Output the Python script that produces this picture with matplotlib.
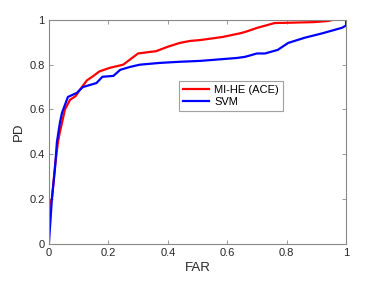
import matplotlib
matplotlib.use('Agg')
import matplotlib.pyplot as plt

plt.rcParams['font.family'] = ['Liberation Sans', 'DejaVu Sans']

# ROC curves
far_ace = [0.0, 0.0, 0.003, 0.01, 0.02, 0.03, 0.037, 0.044, 0.054, 0.071, 0.09, 0.104, 0.128,
           0.15, 0.17, 0.205, 0.25, 0.27, 0.30, 0.34, 0.36, 0.40, 0.44, 0.475, 0.51, 0.586,
           0.643, 0.66, 0.70, 0.76, 0.80, 0.89, 0.94, 0.956, 1.0]
pd_ace = [0.0, 0.075, 0.18, 0.2, 0.34, 0.45, 0.50, 0.54, 0.60, 0.643, 0.66, 0.6875, 0.73,
          0.75, 0.77, 0.786, 0.80, 0.82, 0.85, 0.857, 0.86, 0.88, 0.897, 0.906, 0.91, 0.924,
          0.94, 0.946, 0.964, 0.986, 0.987, 0.99, 0.995, 1.0, 1.0]

far_svm = [0.0, 0.01, 0.02, 0.027, 0.037, 0.044, 0.064, 0.094, 0.114, 0.16, 0.18, 0.217,
           0.24, 0.273, 0.306, 0.374, 0.44, 0.51, 0.633, 0.66, 0.70, 0.727, 0.77, 0.805,
           0.86, 0.92, 0.987, 1.0, 1.0]
pd_svm = [0.0, 0.2, 0.33, 0.455, 0.54, 0.585, 0.656, 0.674, 0.70, 0.718, 0.746, 0.75,
          0.777, 0.79, 0.80, 0.808, 0.813, 0.817, 0.83, 0.835, 0.85, 0.85, 0.866, 0.897,
          0.92, 0.94, 0.965, 0.975, 1.0]

fig = plt.figure(figsize=(3.82, 2.88), dpi=100)
ax = fig.add_axes([0.128, 0.153, 0.778, 0.778])

ax.plot(far_ace, pd_ace, color='red', lw=1.6, label='MI-HE (ACE)')
ax.plot(far_svm, pd_svm, color='blue', lw=1.6, label='SVM')

ax.set_xlim(0, 1)
ax.set_ylim(0, 1)
ax.set_xticks([0, 0.2, 0.4, 0.6, 0.8, 1])
ax.set_yticks([0, 0.2, 0.4, 0.6, 0.8, 1])
ax.set_xticklabels(['0', '0.2', '0.4', '0.6', '0.8', '1'])
ax.set_yticklabels(['0', '0.2', '0.4', '0.6', '0.8', '1'])
ax.tick_params(direction='in', length=3, width=0.6, colors='#888888', labelcolor='#262626',
               labelsize=8, top=True, right=True, pad=3)
for s in ax.spines.values():
    s.set_color('#888888')
    s.set_linewidth(0.8)

ax.set_xlabel('FAR', fontsize=9.5, color='#262626', labelpad=3)
ax.set_ylabel('PD', fontsize=9.5, color='#262626', labelpad=3)

leg = ax.legend(loc='center', bbox_to_anchor=(0.613, 0.66), fontsize=8, frameon=True,
                fancybox=False, edgecolor='#888888', handlelength=2.3, borderpad=0.35,
                labelspacing=0.2, handletextpad=0.5, borderaxespad=0)
leg.get_frame().set_linewidth(0.8)

fig.savefig('out.png', dpi=100)
